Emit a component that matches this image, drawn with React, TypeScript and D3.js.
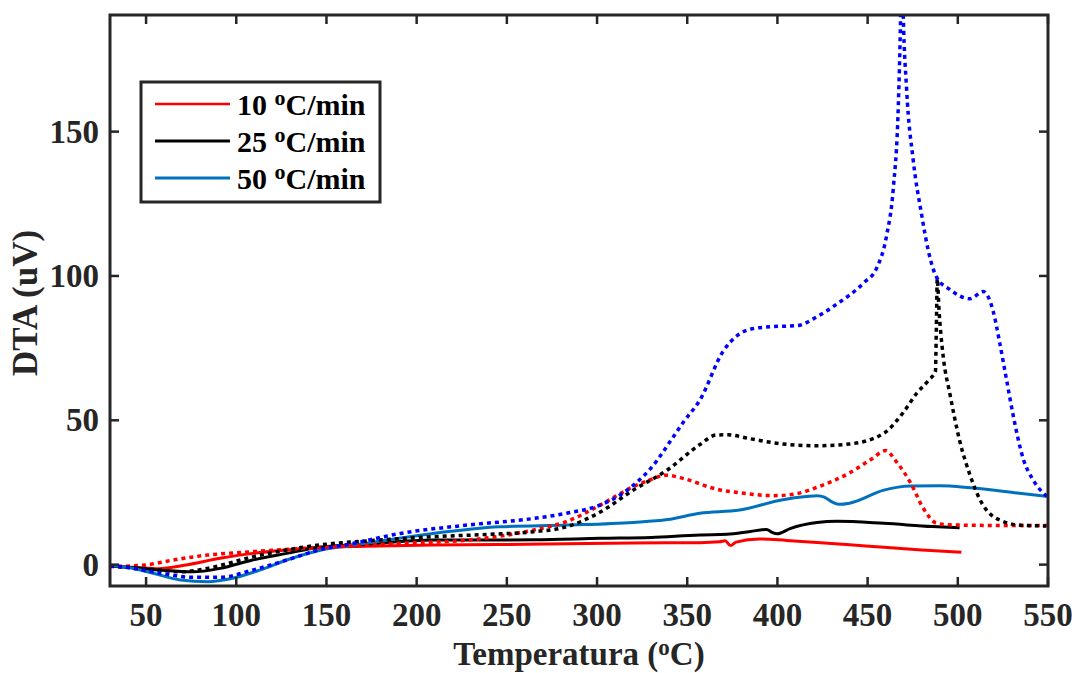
import React from 'react';
import * as d3 from 'd3';

const W = 1077, H = 673;
const box = { left: 110, right: 1048, top: 15, bottom: 586 };

const xTicks = [50, 100, 150, 200, 250, 300, 350, 400, 450, 500, 550];
const yTicks = [0, 50, 100, 150];
const legendLabels = ['10', '25', '50'];

// 10 oC/min, solid
const t10 = [30, 45, 57, 72, 91, 109, 128, 146, 172, 209, 250, 283, 320, 357, 368, 371, 374, 377, 390, 405, 422, 440, 459, 480, 502];
const v10 = [-0.5, -1.0, -1.4, -0.1, 2.2, 3.9, 5.1, 6.0, 6.4, 6.8, 7.0, 7.2, 7.5, 7.6, 7.9, 8.3, 6.6, 7.8, 8.9, 8.4, 7.7, 6.9, 6.0, 5.1, 4.3];

// 25 oC/min, solid
const t25 = [30, 45, 58, 76, 91, 109, 128, 146, 172, 209, 265, 302, 330, 357, 372, 385, 394, 397, 400, 407, 422, 433, 459, 486, 501];
const v25 = [-0.5, -1.2, -1.9, -2.5, -1.3, 1.6, 3.9, 6.0, 7.1, 8.5, 8.6, 9.1, 9.4, 10.3, 10.5, 11.5, 12.2, 11.2, 10.7, 12.5, 14.6, 15.0, 14.3, 13.2, 12.8];

// 50 oC/min, solid
const t50 = [30, 40, 54, 69, 84, 98, 113, 128, 146, 165, 172, 209, 246, 283, 320, 339, 357, 379, 403, 416, 422, 426, 430, 434, 440, 459, 474, 490, 507, 533, 550];
const v50 = [-0.3, -1.0, -3.0, -5.3, -5.9, -4.7, -1.9, 1.6, 4.9, 6.8, 7.4, 10.8, 13.1, 13.7, 14.6, 15.6, 17.8, 18.9, 22.5, 23.6, 23.9, 23.4, 21.8, 20.9, 21.3, 25.8, 27.2, 27.3, 26.6, 24.8, 23.6];

// 10 oC/min, dotted
const t10d = [30, 50, 65, 84, 109, 137, 174, 191, 228, 265, 283, 302, 320, 330, 338, 348, 366, 380, 398, 410, 422, 440, 452, 460, 466, 474, 481, 488, 495, 514, 550];
const v10d = [-0.7, -0.1, 1.6, 3.3, 4.5, 5.6, 6.8, 7.4, 8.5, 12.0, 14.9, 20.7, 27.0, 29.5, 31.0, 29.8, 26.2, 24.8, 23.9, 24.5, 26.8, 31.8, 36.5, 39.5, 35.6, 28.1, 19.4, 14.4, 13.8, 13.6, 13.6];

// 25 oC/min, dotted
const t25d = [30, 45, 58, 69, 84, 109, 128, 146, 174, 210, 240, 265, 283, 302, 320, 339, 357, 366, 372, 385, 403, 422, 440, 459, 470, 477, 484, 487.6, 488.1, 488.6, 489.6, 490.6, 492, 495.6, 501, 507, 514, 525, 536, 549];
const v25d = [-0.5, -1.2, -1.9, -2.5, -1.3, 2.7, 5.1, 6.8, 8.3, 9.7, 10.5, 11.4, 13.1, 18.3, 25.8, 32.8, 41.6, 44.9, 45.0, 43.6, 41.8, 41.2, 41.8, 45.5, 52.9, 59.2, 64.0, 67.0, 82, 99, 88, 80, 71.6, 59.2, 43, 30.6, 20.6, 15, 13.6, 13.4];

// 50 oC/min, dotted
const t50d = [30, 40, 58, 76, 91, 109, 128, 146, 165, 191, 228, 265, 283, 302, 313, 322, 330, 342, 348, 357, 370, 378, 386, 396, 411, 422, 433, 448, 455, 460.5, 464.2, 467, 468.3, 469, 469.8, 471.6, 475.3, 479.9, 483.6, 488.2, 495.6, 506.7, 514.1, 516.9, 519.6, 523.3, 527, 530.7, 536.2, 541.8, 549.2];
const v50d = [-0.3, -1.0, -3.0, -4.4, -4.4, -1.9, 1.6, 5.1, 7.4, 10.8, 13.7, 16.0, 17.8, 20.7, 24.2, 28.5, 33.5, 44, 49.5, 57, 74, 79.5, 81.7, 82.4, 82.8, 85.9, 90.3, 97.7, 102.7, 113.9, 130.1, 158.7, 190, 215, 190, 164.9, 140, 121.4, 108.9, 99.6, 95.3, 92.1, 94.6, 92.7, 87.8, 76.6, 64.1, 51.7, 36.8, 29.3, 23.7];

const axisColor = '#262626';
const font = '"Liberation Serif", "Times New Roman", serif';

export default function App() {
  const x = d3.scaleLinear().domain([30, 550]).range([box.left, box.right]);
  const y = d3.scaleLinear().domain([-7.4, 190.4]).range([box.bottom, box.top]);

  const line = d3.line<[number, number]>()
    .x(d => x(d[0]))
    .y(d => y(d[1]))
    .curve(d3.curveMonotoneX);

  const zip = (t: number[], v: number[]) => t.map((d, i) => [d, v[i]] as [number, number]);

  const series = [
    { pts: zip(t10, v10), color: '#ff0000', w: 3, dash: null },
    { pts: zip(t25, v25), color: '#000000', w: 3, dash: null },
    { pts: zip(t50, v50), color: '#0072bd', w: 3, dash: null },
    { pts: zip(t10d, v10d), color: '#ff0000', w: 3.5, dash: '4,4' },
    { pts: zip(t25d, v25d), color: '#000000', w: 3.5, dash: '4,4' },
    { pts: zip(t50d, v50d), color: '#0000ff', w: 3.5, dash: '4,4' },
  ];
  const legendColors = ['#ff0000', '#000000', '#0072bd'];
  const tick = 9;

  return (
    <svg width={W} height={H} style={{ position: 'absolute', left: 0, top: 0, background: '#fff' }}
      fontFamily={font} fontWeight="bold">
      <defs>
        <clipPath id="plot">
          <rect x={box.left} y={box.top} width={box.right - box.left} height={box.bottom - box.top} />
        </clipPath>
      </defs>
      <rect width={W} height={H} fill="#fff" />

      <g clipPath="url(#plot)">
        {series.map((s, i) => (
          <path key={i} d={line(s.pts) || ''} fill="none" stroke={s.color} strokeWidth={s.w}
            strokeDasharray={s.dash || undefined} strokeLinejoin="round" />
        ))}
      </g>

      {/* ticks, inward, on all four sides */}
      <g stroke={axisColor} strokeWidth={2.5}>
        {xTicks.map(t => (
          <g key={'x' + t}>
            <line x1={x(t)} x2={x(t)} y1={box.bottom} y2={box.bottom - tick} />
            <line x1={x(t)} x2={x(t)} y1={box.top} y2={box.top + tick} />
          </g>
        ))}
        {yTicks.map(t => (
          <g key={'y' + t}>
            <line x1={box.left} x2={box.left + tick} y1={y(t)} y2={y(t)} />
            <line x1={box.right} x2={box.right - tick} y1={y(t)} y2={y(t)} />
          </g>
        ))}
      </g>
      <rect x={box.left} y={box.top} width={box.right - box.left} height={box.bottom - box.top}
        fill="none" stroke={axisColor} strokeWidth={3} />

      <g fill={axisColor} fontSize={33}>
        {xTicks.map(t => (
          <text key={'xl' + t} x={x(t)} y={626} textAnchor="middle">{t}</text>
        ))}
        {yTicks.map(t => (
          <text key={'yl' + t} x={99} y={y(t) + 11} textAnchor="end">{t}</text>
        ))}
      </g>

      <text x={(box.left + box.right) / 2} y={665} textAnchor="middle" fontSize={33} fill={axisColor}>
        Temperatura (<tspan fontSize={23} dy={-10}>o</tspan><tspan dy={10}>C)</tspan>
      </text>
      <text transform={`translate(37,303) rotate(-90)`} textAnchor="middle"
        fontSize={35} fill={axisColor}>DTA (uV)</text>

      {/* legend */}
      <rect x={141} y={82} width={239} height={120} fill="#fff" stroke={axisColor} strokeWidth={3} />
      {legendLabels.map((lab, i) => {
        const ly = 104 + i * 37;
        return (
          <g key={lab}>
            <line x1={155} x2={230} y1={ly} y2={ly} stroke={legendColors[i]} strokeWidth={i === 0 ? 2.5 : 3} />
            <text x={237} y={ly + 11} fontSize={30} fill="#000">
              {lab} <tspan fontSize={22} dy={-10}>o</tspan><tspan dy={10}>C/min</tspan>
            </text>
          </g>
        );
      })}
    </svg>
  );
}
